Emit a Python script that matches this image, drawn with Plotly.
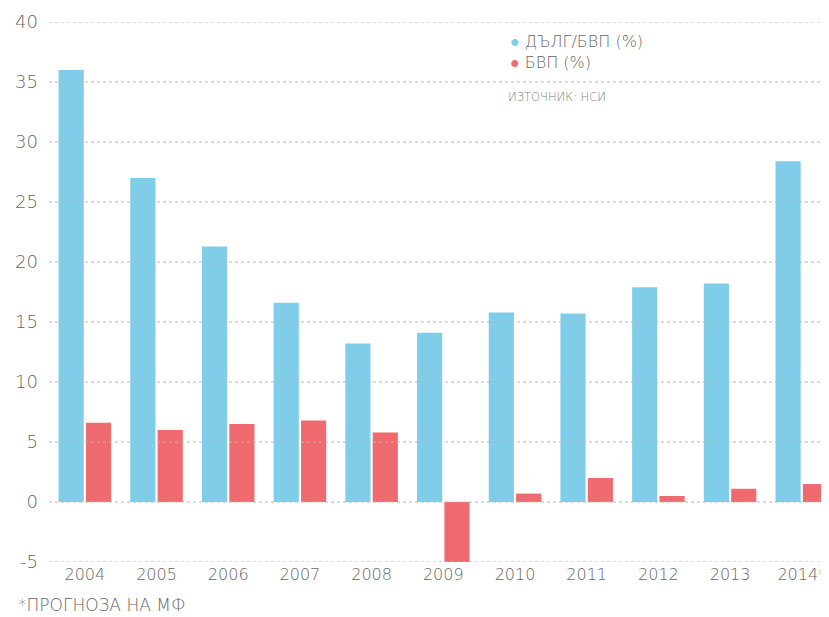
import plotly.graph_objects as go

years = ["2004", "2005", "2006", "2007", "2008", "2009", "2010", "2011", "2012", "2013", "2014*"]
debt_gdp = [36.0, 27.0, 21.3, 16.6, 13.2, 14.1, 15.8, 15.7, 17.9, 18.2, 28.4]
gdp_growth = [6.6, 6.0, 6.5, 6.8, 5.8, -5.0, 0.7, 2.0, 0.5, 1.1, 1.5]
y_ticks = [-5, 0, 5, 10, 15, 20, 25, 30, 35, 40]
y_tick_labels = ["-5", "0", "5", "10", "15", "20", "25", "30", "35", "40"]

blue = "#7fcde8"
red = "#f06b6f"
grey = "#666666"
font = "DejaVu Sans"

fig = go.Figure()
fig.add_trace(go.Bar(x=years, y=debt_gdp, name="ДЪЛГ/БВП (%)", marker_color=blue,
                     marker_line_width=0, showlegend=False))
fig.add_trace(go.Bar(x=years, y=gdp_growth, name="БВП (%)", marker_color=red,
                     marker_line_width=0, showlegend=False))

for t in y_ticks:
    fig.add_hline(y=t, line=dict(color="#b8b8b8", width=1.2, dash="dot"), layer="above")

fig.update_layout(
    width=821, height=609,
    margin=dict(l=41, r=0, t=14, b=55),
    paper_bgcolor="white", plot_bgcolor="white",
    barmode="group", bargap=0.237, bargroupgap=0.08,
    font=dict(family=font, color=grey, weight=200),
    xaxis=dict(range=[-0.5, 10.38], showgrid=False, showline=False, zeroline=False,
               ticks="", tickfont=dict(size=16, color=grey, weight=200), ticklabelstandoff=1),
    yaxis=dict(range=[-5, 40], tickvals=y_ticks, ticktext=y_tick_labels, showgrid=False,
               zeroline=False, showline=False, ticks="",
               tickfont=dict(size=18, color=grey, weight=200), ticklabelstandoff=10),
    annotations=[
        dict(xref="paper", yref="paper", x=0.589, y=0.963, xanchor="left", yanchor="middle",
             showarrow=False, font=dict(size=16, color=grey, weight=200),
             text=f"<span style='color:{blue}'>●</span> ДЪЛГ/БВП (%)"),
        dict(xref="paper", yref="paper", x=0.589, y=0.925, xanchor="left", yanchor="middle",
             showarrow=False, font=dict(size=16, color=grey, weight=200),
             text=f"<span style='color:{red}'>●</span> БВП (%)"),
        dict(xref="paper", yref="paper", x=0.586, y=0.861, xanchor="left", yanchor="middle",
             showarrow=False, font=dict(size=11.5, color="#808080", weight=200),
             text="ИЗТОЧНИК: НСИ"),
        dict(xref="paper", yref="paper", x=-0.042, y=-0.08, xanchor="left", yanchor="middle",
             showarrow=False, font=dict(size=17, color=grey, weight=200),
             text="*ПРОГНОЗА НА МФ"),
    ],
)

fig.write_html("out.html")
